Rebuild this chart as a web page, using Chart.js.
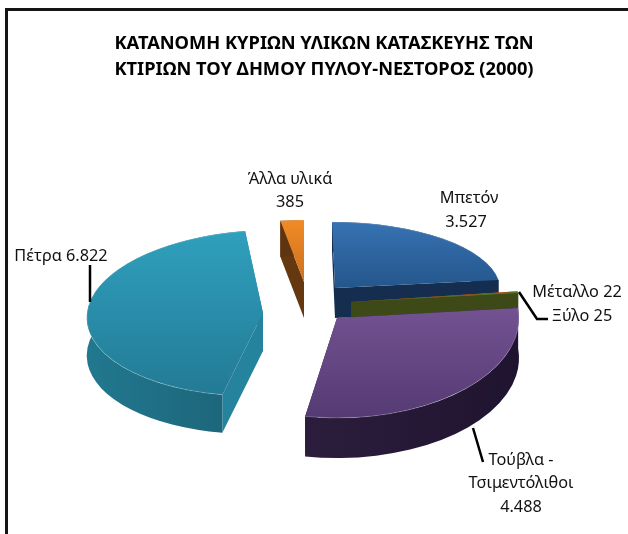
<!DOCTYPE html>
<html>
<head>
<meta charset="utf-8">
<script src="https://cdn.jsdelivr.net/npm/chart.js@4"></script>
<style>
  html, body { margin: 0; padding: 0; background: #fff; }
  #wrap { position: relative; width: 628px; height: 534px; overflow: hidden; }
  #frame { position: absolute; left: 5px; top: 8px; width: 640px; height: 560px; border: 3px solid #151515; box-sizing: border-box; }
  canvas { position: absolute; left: 0; top: 0; }
</style>
</head>
<body>
<div id="wrap">
  <div id="frame"></div>
  <canvas id="chart" width="628" height="534"></canvas>
</div>
<script>
const titleLines = ['ΚΑΤΑΝΟΜΗ ΚΥΡΙΩΝ ΥΛΙΚΩΝ ΚΑΤΑΣΚΕΥΗΣ ΤΩΝ', 'ΚΤΙΡΙΩΝ ΤΟΥ ΔΗΜΟΥ ΠΥΛΟΥ-ΝΕΣΤΟΡΟΣ (2000)'];
const categories = ['Μπετόν', 'Μέταλλο', 'Ξύλο', 'Τούβλα - Τσιμεντόλιθοι', 'Πέτρα', 'Άλλα υλικά'];
const values = [3527, 22, 25, 4488, 6822, 385];

// colours: top face (far edge -> near edge), outer wall (left -> right), cut face
const topFar = ['#3672b3', '#d9531e', '#5d7d25', '#8b66ab', '#2fa0bd', '#f08a26'];
const topNear = ['#123a62', '#d9531e', '#5d7d25', '#553a73', '#237a95', '#a85a1a'];
const wallLeft = ['#152e50', '#7a3a1a', '#3a4718', '#352345', '#21788f', '#5f3410'];
const wallRight = ['#152e50', '#7a3a1a', '#3a4718', '#1f1430', '#174a5b', '#5f3410'];
const faceColors = ['#152e50', '#7a3a1a', '#3d4a18', '#2c1c3c', '#26839e', '#66380f'];

// fake 3d: where each exploded slice sits relative to the pie centre and how it is tilted
const shiftX = [11, 27, 27, 13, -61, -20];
const shiftY = [-18, -4, -4, 12, 7, -24];
const radiusX = [165, 168, 168, 182, 176, 150];
const radiusY = [66, 90, 90, 100, 83, 62];
const skewX = [0.045, 0, 0, 0, -0.12, 0];
const depths = [30, 30, 30, 40, 38, 36];
const drawOrder = [0, 1, 2, 5, 4, 3];

const fmt = (v) => v.toLocaleString('de-DE');

function tiltTransform(ctx, arc, i, dy) {
  const sx = radiusX[i] / arc.outerRadius;
  const sy = radiusY[i] / arc.outerRadius;
  ctx.translate(arc.x + shiftX[i], arc.y + shiftY[i] + dy);
  ctx.transform(sx, 0, skewX[i] * sy, sy, 0, 0);
  ctx.translate(-arc.x, -arc.y);
}

// run a path step under the tilt of slice i, lowered by dy
function tilted(ctx, arc, i, dy, step) {
  ctx.save();
  tiltTransform(ctx, arc, i, dy);
  step();
  ctx.restore();
}

function fillCutFace(ctx, arc, i, angle) {
  const ex = arc.x + Math.cos(angle) * arc.outerRadius;
  const ey = arc.y + Math.sin(angle) * arc.outerRadius;
  ctx.beginPath();
  tilted(ctx, arc, i, 0, () => {
    ctx.moveTo(arc.x, arc.y);
    ctx.lineTo(ex, ey);
  });
  tilted(ctx, arc, i, depths[i], () => {
    ctx.lineTo(ex, ey);
    ctx.lineTo(arc.x, arc.y);
  });
  ctx.closePath();
  ctx.fillStyle = faceColors[i];
  ctx.fill();
}

const pie3d = {
  id: 'pie3d',
  beforeDatasetDraw(chart, args) {
    const ctx = chart.ctx;
    const arcs = args.meta.data;
    drawOrder.forEach((i) => {
      const arc = arcs[i];
      const R = arc.outerRadius;

      fillCutFace(ctx, arc, i, arc.startAngle);
      fillCutFace(ctx, arc, i, arc.endAngle);

      // outer wall between the top arc and the same arc lowered by the depth
      const x0 = arc.x + shiftX[i] - radiusX[i];
      const wall = ctx.createLinearGradient(x0, 0, x0 + radiusX[i] * 2, 0);
      wall.addColorStop(0, wallLeft[i]);
      wall.addColorStop(1, wallRight[i]);
      ctx.beginPath();
      tilted(ctx, arc, i, 0, () => ctx.arc(arc.x, arc.y, R, arc.startAngle, arc.endAngle));
      tilted(ctx, arc, i, depths[i], () => ctx.arc(arc.x, arc.y, R, arc.endAngle, arc.startAngle, true));
      ctx.closePath();
      ctx.fillStyle = wall;
      ctx.fill();

      // top face is the library's own arc element
      tilted(ctx, arc, i, 0, () => arc.draw(ctx, chart.chartArea));

      // thin light rim along the outer edge
      ctx.beginPath();
      tilted(ctx, arc, i, 0, () => ctx.arc(arc.x, arc.y, R, arc.startAngle, arc.endAngle));
      ctx.strokeStyle = 'rgba(255,255,255,0.22)';
      ctx.lineWidth = 1;
      ctx.stroke();
    });
    return false;
  }
};

// label text, anchored by hand like the moved labels of the original
const labelLines = [
  [categories[0]],
  [fmt(values[0])],
  [categories[1] + ' ' + fmt(values[1])],
  [categories[2] + ' ' + fmt(values[2])],
  ['Τούβλα -', 'Τσιμεντόλιθοι', fmt(values[3])],
  [categories[4] + ' ' + fmt(values[4])],
  [categories[5], fmt(values[5])]
];
const labelX = [469, 466, 577, 582, 521, 61, 290];
const labelY = [198, 222, 292, 316, 460, 256, 179];
const leaderLines = [
  [[90, 265], [90, 302]],
  [[519, 292], [537, 319], [548, 319]],
  [[473, 428], [483, 462]]
];

const labelsPlugin = {
  id: 'sliceLabels',
  afterDraw(chart) {
    const ctx = chart.ctx;
    ctx.save();
    ctx.strokeStyle = '#000';
    ctx.lineWidth = 2.5;
    leaderLines.forEach((pts) => {
      ctx.beginPath();
      pts.forEach((p, k) => (k ? ctx.lineTo(p[0], p[1]) : ctx.moveTo(p[0], p[1])));
      ctx.stroke();
    });
    ctx.fillStyle = '#111';
    ctx.font = '16.3px "Noto Sans"';
    ctx.textAlign = 'center';
    ctx.textBaseline = 'middle';
    labelLines.forEach((lines, i) => {
      lines.forEach((t, k) => ctx.fillText(t, labelX[i], labelY[i] + k * 23.5));
    });
    ctx.restore();
  }
};

new Chart(document.getElementById('chart'), {
  type: 'pie',
  data: {
    labels: categories,
    datasets: [{
      data: values,
      borderWidth: 0,
      backgroundColor: (c) => {
        const area = c.chart.chartArea;
        if (!area) return topFar[c.dataIndex];
        const cy = (area.top + area.bottom) / 2;
        const R = (area.bottom - area.top) / 2;
        const g = c.chart.ctx.createLinearGradient(0, cy - R, 0, cy + R);
        g.addColorStop(0, topFar[c.dataIndex]);
        g.addColorStop(1, topNear[c.dataIndex]);
        return g;
      }
    }]
  },
  plugins: [pie3d, labelsPlugin],
  options: {
    responsive: false,
    animation: false,
    layout: { padding: { left: 20, right: 0, top: 0, bottom: 7 } },
    plugins: {
      legend: { display: false },
      tooltip: { enabled: false },
      title: {
        display: true,
        text: titleLines,
        color: '#000',
        font: { family: '"Noto Sans"', size: 18.3, weight: 'bold', lineHeight: 1.42 },
        padding: { top: 31, bottom: 2 }
      }
    }
  }
});
</script>
</body>
</html>
